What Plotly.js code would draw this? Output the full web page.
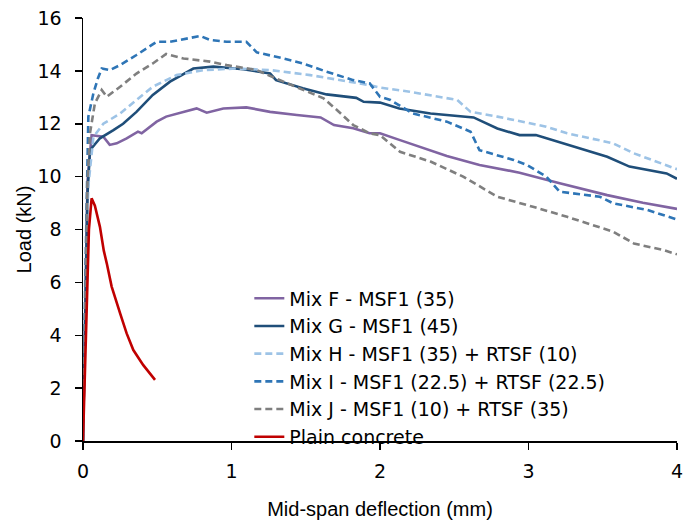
<!DOCTYPE html>
<html>
<head>
<meta charset="utf-8">
<script src="https://cdn.plot.ly/plotly-3.0.1.min.js"></script>
<style>html,body{margin:0;padding:0;background:#fff;}#chart{width:684px;height:525px;}</style>
</head>
<body>
<div id="chart"></div>
<script>
// Mix F - MSF1 (35)
const mixF_x = [0, 0.015, 0.03, 0.058, 0.137, 0.18, 0.227, 0.294, 0.37, 0.395, 0.496, 0.56, 0.676, 0.765, 0.833, 0.945, 1.10, 1.26, 1.44, 1.60, 1.69, 1.82, 1.93, 2.0, 2.135, 2.27, 2.45, 2.67, 2.94, 3.21, 3.53, 3.77, 4.0];
const mixF_y = [0, 5.5, 9.8, 11.57, 11.51, 11.2, 11.26, 11.45, 11.7, 11.64, 12.08, 12.27, 12.45, 12.58, 12.42, 12.58, 12.62, 12.45, 12.33, 12.24, 11.95, 11.83, 11.64, 11.64, 11.38, 11.13, 10.78, 10.44, 10.15, 9.75, 9.3, 9.01, 8.78];
// Mix G - MSF1 (45)
const mixG_x = [0, 0.015, 0.03, 0.047, 0.114, 0.205, 0.27, 0.36, 0.47, 0.586, 0.743, 0.878, 1.08, 1.26, 1.30, 1.48, 1.64, 1.84, 1.89, 2.0, 2.13, 2.34, 2.63, 2.79, 2.94, 3.05, 3.26, 3.53, 3.68, 3.93, 4.0];
const mixG_y = [0, 5.0, 9.3, 11.0, 11.45, 11.76, 12.0, 12.45, 13.09, 13.59, 14.09, 14.16, 14.06, 13.9, 13.65, 13.34, 13.11, 12.98, 12.83, 12.8, 12.58, 12.39, 12.24, 11.82, 11.57, 11.57, 11.2, 10.75, 10.38, 10.12, 9.92];
// Mix H - MSF1 (35) + RTSF (10)
const mixH_x = [0, 0.015, 0.035, 0.07, 0.137, 0.25, 0.36, 0.47, 0.63, 0.81, 1.035, 1.26, 1.53, 1.71, 1.93, 2.0, 2.20, 2.52, 2.61, 2.79, 3.12, 3.26, 3.57, 3.71, 4.0];
const mixH_y = [0, 5.2, 9.6, 11.5, 12.0, 12.39, 12.9, 13.4, 13.84, 14.03, 14.09, 14.03, 13.84, 13.68, 13.46, 13.37, 13.21, 12.9, 12.45, 12.27, 11.89, 11.64, 11.26, 10.88, 10.28];
// Mix I - MSF1 (22.5) + RTSF (22.5)
const mixI_x = [0, 0.015, 0.036, 0.07, 0.10, 0.126, 0.18, 0.25, 0.36, 0.496, 0.586, 0.79, 0.855, 0.968, 1.10, 1.17, 1.35, 1.48, 1.64, 1.82, 1.93, 2.0, 2.07, 2.22, 2.45, 2.61, 2.67, 2.90, 2.99, 3.12, 3.21, 3.48, 3.57, 3.80, 4.0];
const mixI_y = [0, 6.0, 12.27, 13.15, 13.71, 14.09, 14.03, 14.22, 14.6, 15.1, 15.1, 15.32, 15.17, 15.1, 15.1, 14.7, 14.47, 14.28, 13.97, 13.65, 13.53, 13.02, 12.9, 12.39, 12.08, 11.7, 11.0, 10.63, 10.44, 10.0, 9.43, 9.24, 8.99, 8.74, 8.38];
// Mix J - MSF1 (10) + RTSF (35)
const mixJ_x = [0, 0.015, 0.03, 0.047, 0.08, 0.126, 0.16, 0.25, 0.36, 0.47, 0.56, 0.676, 0.855, 0.968, 1.17, 1.30, 1.48, 1.62, 1.71, 1.82, 1.93, 2.0, 2.135, 2.34, 2.56, 2.79, 3.03, 3.26, 3.57, 3.71, 3.91, 4.0];
const mixJ_y = [0, 5.5, 9.8, 11.64, 12.77, 13.28, 13.02, 13.4, 13.9, 14.28, 14.64, 14.47, 14.35, 14.22, 14.03, 13.71, 13.28, 12.96, 12.52, 11.95, 11.64, 11.57, 10.94, 10.57, 10.0, 9.24, 8.86, 8.48, 7.92, 7.47, 7.22, 7.06];
// Plain concrete
const plain_x = [0, 0.02, 0.04, 0.058, 0.08, 0.114, 0.14, 0.16, 0.193, 0.25, 0.294, 0.339, 0.406, 0.485];
const plain_y = [0, 4.5, 8.0, 9.18, 8.9, 8.1, 7.2, 6.72, 5.84, 4.83, 4.07, 3.44, 2.87, 2.31];

const names = ["Mix F - MSF1 (35)", "Mix G - MSF1 (45)", "Mix H - MSF1 (35) + RTSF (10)", "Mix I - MSF1 (22.5) + RTSF (22.5)", "Mix J - MSF1 (10) + RTSF (35)", "Plain concrete"];

const xTicks = [0, 1, 2, 3, 4];
const yTicks = [0, 2, 4, 6, 8, 10, 12, 14, 16];

const dashPat = "7px,4px";
const traces = [
  {x: mixF_x, y: mixF_y, name: names[0], line: {color: "#8064A2", width: 2.6}},
  {x: mixG_x, y: mixG_y, name: names[1], line: {color: "#1F4E79", width: 2.6}},
  {x: mixH_x, y: mixH_y, name: names[2], line: {color: "#9DC3E6", width: 2.6, dash: dashPat}},
  {x: mixI_x, y: mixI_y, name: names[3], line: {color: "#2E75B6", width: 2.6, dash: dashPat}},
  {x: mixJ_x, y: mixJ_y, name: names[4], line: {color: "#7F7F7F", width: 2.6, dash: dashPat}},
  {x: plain_x, y: plain_y, name: names[5], line: {color: "#C00000", width: 2.6}}
].map(t => Object.assign({type: "scatter", mode: "lines"}, t));

const font = {family: "'Liberation Sans', Arial, sans-serif", size: 20, color: "#000"};
const legendFont = {family: "'DejaVu Sans', sans-serif", size: 19, color: "#000"};
const tickFont = {family: "'DejaVu Sans', sans-serif", size: 19, color: "#000"};

const layout = {
  width: 684, height: 525,
  margin: {l: 83, r: 7, t: 18, b: 84},
  paper_bgcolor: "#fff", plot_bgcolor: "#fff",
  font: font,
  showlegend: true,
  legend: {
    x: 0.28, y: 0.382, xanchor: "left", yanchor: "top",
    bgcolor: "rgba(0,0,0,0)", font: legendFont, tracegroupgap: 0
  },
  xaxis: {
    range: [0, 4], tickvals: xTicks, ticktext: xTicks.map(String),
    showgrid: false, zeroline: false, showline: true, linecolor: "#000", linewidth: 1.5,
    ticks: "outside", ticklen: 7, tickcolor: "#000", tickwidth: 1.5,
    ticklabelstandoff: 6,
    tickfont: tickFont,
    title: {text: "Mid-span deflection (mm)", font: font, standoff: 20}
  },
  yaxis: {
    range: [0, 16], tickvals: yTicks, ticktext: yTicks.map(String),
    showgrid: false, zeroline: false, showline: true, linecolor: "#000", linewidth: 1.5,
    ticks: "outside", ticklen: 7, tickcolor: "#000", tickwidth: 1.5,
    ticklabelstandoff: 9,
    tickfont: tickFont,
    title: {text: "Load (kN)", font: font, standoff: 0}
  }
};

Plotly.newPlot("chart", traces, layout, {displayModeBar: false, staticPlot: true});
</script>
</body>
</html>
